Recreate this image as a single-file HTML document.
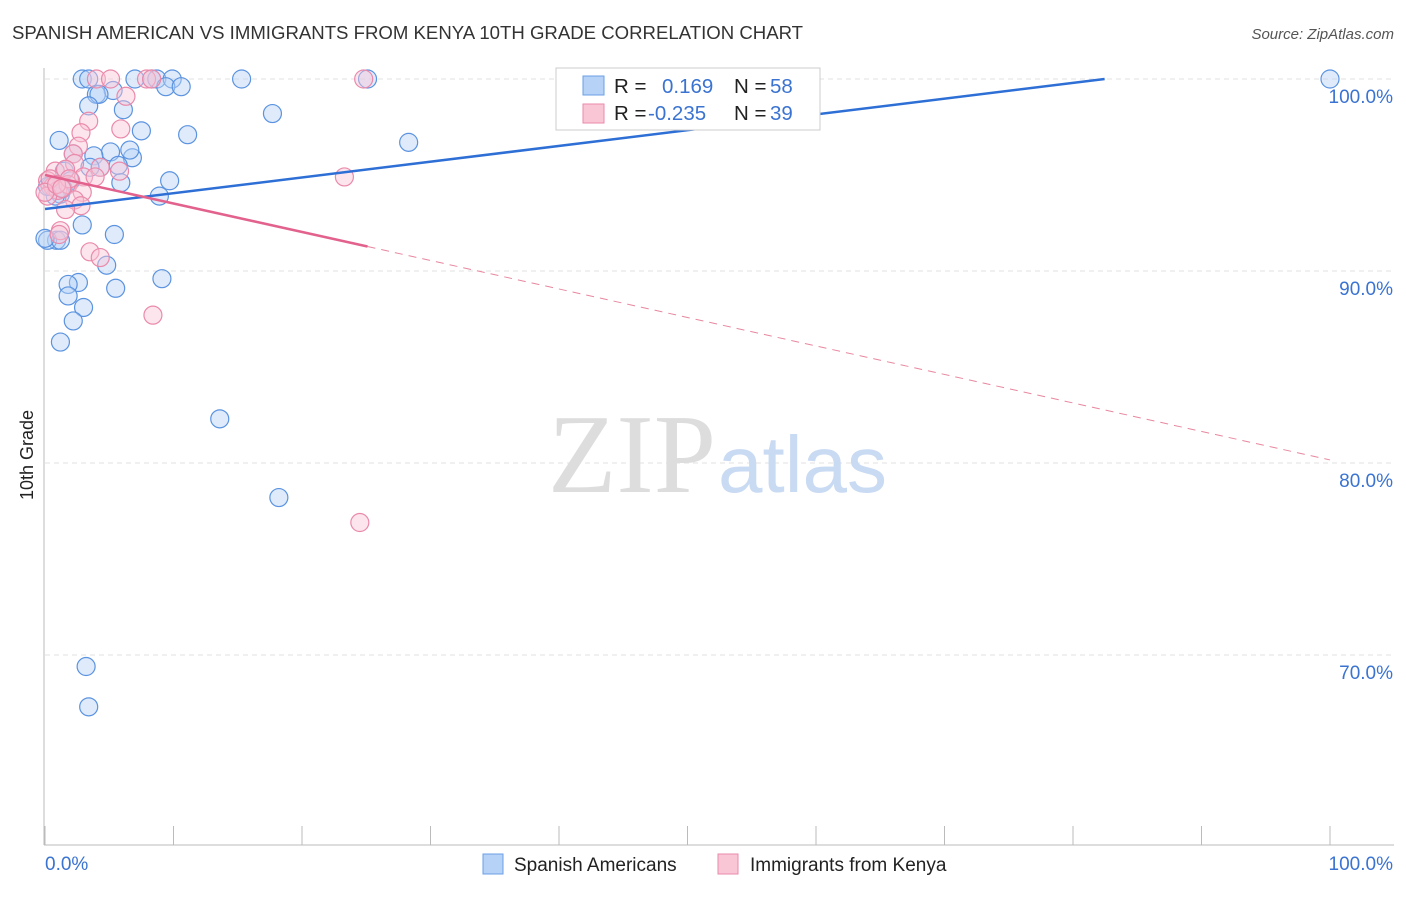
<!DOCTYPE html>
<html><head><meta charset="utf-8"><style>
body{margin:0;background:#fff;font-family:"Liberation Sans",sans-serif;}
</style></head><body>
<svg id="chart" width="1406" height="892" xmlns="http://www.w3.org/2000/svg">
<text x="12" y="39" font-size="18.6" fill="#333">SPANISH AMERICAN VS IMMIGRANTS FROM KENYA 10TH GRADE CORRELATION CHART</text>
<text x="1394" y="39" font-size="15" fill="#555" font-style="italic" text-anchor="end">Source: ZipAtlas.com</text>
<g id="grid"></g>
<text x="716" y="492" font-size="112" fill="#ddd" text-anchor="end" font-family="Liberation Serif,serif">ZIP</text>
<text x="718" y="492" font-size="80" fill="#c9daf3">atlas</text>
<text transform="translate(33,455) rotate(-90)" font-size="18" fill="#222" text-anchor="middle">10th Grade</text>
<g id="pts"></g>
<g id="lines"></g>
<g>
<rect x="556" y="68" width="264" height="62" fill="#fff" stroke="#ccc"/>
<rect x="583" y="76" width="21" height="19" fill="#b7d2f7" stroke="#6a9fe6"/>
<rect x="583" y="104" width="21" height="19" fill="#f9c6d6" stroke="#ea8aab"/>
<text x="614" y="93" font-size="20.5" fill="#222">R =</text>
<text x="662" y="93" font-size="20.5" fill="#3a73d1">0.169</text>
<text x="734" y="93" font-size="20.5" fill="#222">N =</text>
<text x="770" y="93" font-size="20.5" fill="#3a73d1">58</text>
<text x="614" y="120" font-size="20.5" fill="#222">R =</text>
<text x="648" y="120" font-size="20.5" fill="#3a73d1">-0.235</text>
<text x="734" y="120" font-size="20.5" fill="#222">N =</text>
<text x="770" y="120" font-size="20.5" fill="#3a73d1">39</text>
</g>
<g>
<rect x="483" y="854" width="20" height="20" fill="#b7d2f7" stroke="#6a9fe6"/>
<text x="514" y="871" font-size="19" fill="#222">Spanish Americans</text>
<rect x="718" y="854" width="20" height="20" fill="#f9c6d6" stroke="#ea8aab"/>
<text x="750" y="871" font-size="19" fill="#222">Immigrants from Kenya</text>
</g>
</svg>
<script>
const blueX=[2.9,3.4,7.0,8.3,8.7,9.9,15.3,25.1,100,9.4,10.6,5.3,4.0,4.2,3.4,6.1,17.7,7.5,11.1,1.1,28.3,5.1,2.2,3.8,6.8,5.7,4.3,1.5,5.9,9.7,2.0,0.4,1.2,8.9,2.9,5.4,0.9,0.2,4.8,2.6,1.8,9.1,1.8,5.5,3.0,2.2,1.2,13.6,18.2,3.2,3.4,0.8,0.2,1.4,3.5,6.6,1.2,0.0];
const blueY=[100,100,100,100,100,100,100,100,100,99.6,99.6,99.4,99.2,99.2,98.6,98.4,98.2,97.3,97.1,96.8,96.7,96.2,96.1,96.0,95.9,95.5,95.4,95.2,94.6,94.7,94.7,94.4,94.0,93.9,92.4,91.9,91.6,91.6,90.3,89.4,89.3,89.6,88.7,89.1,88.1,87.4,86.3,82.3,78.2,69.4,67.3,93.9,94.4,94.3,95.4,96.3,91.6,91.7];
const pinkX=[4.0,5.1,7.9,8.3,24.8,6.3,3.4,5.9,2.8,2.6,2.2,2.3,0.8,1.6,4.3,5.8,3.0,3.9,0.2,0.6,1.0,1.8,2.9,0.2,2.3,2.8,1.6,1.2,1.1,3.5,4.3,8.4,23.3,24.5,0.4,1.9,0.0,0.9,1.3];
const pinkY=[100,100,100,100,100,99.1,97.8,97.4,97.2,96.5,96.1,95.6,95.2,95.3,95.4,95.2,94.9,94.9,94.7,94.4,94.2,94.5,94.1,93.9,93.7,93.4,93.2,92.1,91.9,91.0,90.7,87.7,94.9,76.9,94.8,94.8,94.1,94.5,94.3];
const yTicks=[100,90,80,70];
const blueLine=[93.23,0.0821];
const pinkLine=[95.0,-0.1484];
const pinkSolidEnd=25.1;
const sx=v=>45+v*12.85, sy=v=>79+(100-v)*19.2;
const NS="http://www.w3.org/2000/svg";
function mk(t,a,p){const e=document.createElementNS(NS,t);for(const k in a)e.setAttribute(k,a[k]);p.appendChild(e);return e;}
const g=document.getElementById('grid');
yTicks.forEach(v=>{
 const l=mk('line',{x1:45,x2:1394,y1:sy(v),y2:sy(v),stroke:'#e2e2e2','stroke-dasharray':'5,4'},g);
 
 
 const t=mk('text',{x:1393,y:sy(v)+24,'font-size':19,fill:'#3a73d1','text-anchor':'end'},g);
 t.textContent=v.toFixed(1)+'%';
 
 
});
mk('line',{x1:44,x2:44,y1:68,y2:845,stroke:'#bbb'},g);
mk('line',{x1:44,x2:1394,y1:845,y2:845,stroke:'#bbb'},g);
for(let i=0;i<=10;i++){mk('line',{x1:45+i*128.5,x2:45+i*128.5,y1:826,y2:845,stroke:'#bbb'},g);}
let t0=mk('text',{x:45,y:870,'font-size':19,fill:'#3a73d1'},g);t0.textContent='0.0%';


let t1=mk('text',{x:1393,y:870,'font-size':19,fill:'#3a73d1','text-anchor':'end'},g);t1.textContent='100.0%';


const P=document.getElementById('pts');
blueX.forEach((x,i)=>{const c=mk('circle',{cx:sx(x),cy:sy(blueY[i]),r:9,fill:'#b7d2f7','fill-opacity':0.45,stroke:'#5b93e0','stroke-width':1.2},P);

});
pinkX.forEach((x,i)=>{const c=mk('circle',{cx:sx(x),cy:sy(pinkY[i]),r:9,fill:'#f9c6d6','fill-opacity':0.45,stroke:'#ea8aab','stroke-width':1.2},P);

});
const L=document.getElementById('lines');
const bxEnd=(100-blueLine[0])/blueLine[1];
let bl=mk('line',{x1:sx(0),y1:sy(blueLine[0]),x2:sx(bxEnd),y2:sy(100),stroke:'#2e6fd6','stroke-width':2.5},L);


let pl=mk('line',{x1:sx(0),y1:sy(pinkLine[0]),x2:sx(pinkSolidEnd),y2:sy(pinkLine[0]+pinkLine[1]*pinkSolidEnd),stroke:'#e2628d','stroke-width':2.5},L);


let pd=mk('line',{x1:sx(pinkSolidEnd),y1:sy(pinkLine[0]+pinkLine[1]*pinkSolidEnd),x2:sx(100),y2:sy(pinkLine[0]+pinkLine[1]*100),stroke:'#e8879f','stroke-width':1,'stroke-dasharray':'8,6'},L);


</script>
</body></html>
